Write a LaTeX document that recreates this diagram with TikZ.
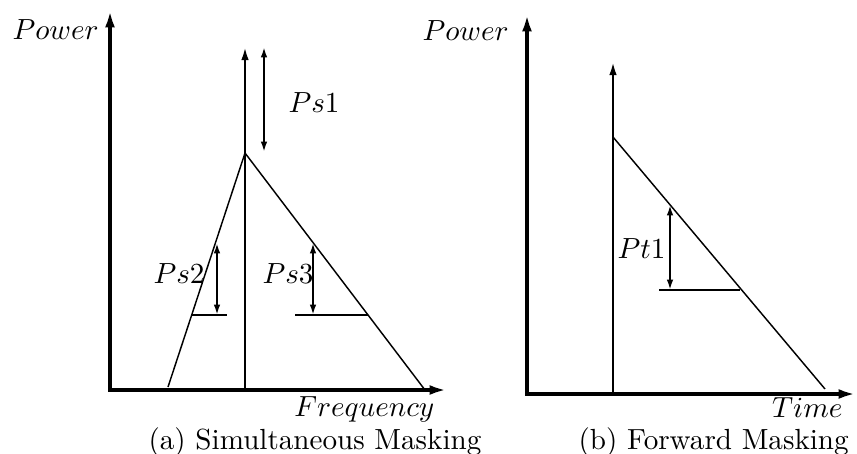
\documentclass[tikz,border=0pt]{standalone}
\usepackage{tikz}
\usetikzlibrary{arrows.meta}

\begin{document}
\begin{tikzpicture}[x=0.3434pt,y=-0.3434pt,
		axis/.style={line width=1.2pt,{Latex[length=6pt,width=3.4pt]}-{Latex[length=6pt,width=3.4pt]}},
		masker/.style={line width=0.8pt,-{Latex[length=4.5pt,width=2.6pt]}},
		slope/.style={line width=0.5pt},
		level/.style={line width=0.7pt,{Latex[length=3.6pt,width=2.3pt]}-{Latex[length=3.6pt,width=2.3pt]}},
		lbl/.style={inner sep=0pt}]
		\useasboundingbox (0,0) rectangle (857,453);
		% (a) simultaneous masking
		\coordinate (oA) at (110,390);
		\coordinate (yA) at (110,10);
		\coordinate (xA) at (447,390);
		\draw[axis] (yA) -- (oA) -- (xA);
		\node[lbl,anchor=base west] (powA) at (12,39) {$Power$};
		\node[lbl,anchor=base east] (freq) at (435,416) {$Frequency$};
		\node[lbl,anchor=base west] (capA) at (148,449) {(a) Simultaneous Masking};
		% masker and spreading
		\coordinate (mA) at (245,390);
		\coordinate (mAtop) at (245,47);
		\coordinate (peak) at (245,153);
		\draw[masker] (mA) -- (mAtop);
		\draw[slope] (168,387) coordinate (lowL) -- (peak) -- (425,390) coordinate (lowR);
		% Ps1
		\coordinate (s1a) at (264,47);
		\coordinate (s1b) at (264,152);
		\draw[level] (s1a) -- (s1b);
		\node[lbl,anchor=base west] (ps1) at (288,112) {$Ps1$};
		% Ps2
		\coordinate (s2a) at (217,243);
		\coordinate (s2b) at (217,315);
		\draw[level] (s2a) -- (s2b);
		\draw[slope] (192,315) coordinate (h2a) -- (227,315) coordinate (h2b);
		\node[lbl,anchor=base west] (ps2) at (153,283) {$Ps2$};
		% Ps3
		\coordinate (s3a) at (313,243);
		\coordinate (s3b) at (313,315);
		\draw[level] (s3a) -- (s3b);
		\draw[slope] (295,315) coordinate (h3a) -- (368,315) coordinate (h3b);
		\node[lbl,anchor=base west] (ps3) at (262,283) {$Ps3$};

		% (b) forward masking
		\coordinate (oB) at (527,394);
		\coordinate (yB) at (527,14);
		\coordinate (xB) at (856,394);
		\draw[axis] (yB) -- (oB) -- (xB);
		\node[lbl,anchor=base west] (powB) at (422,40) {$Power$};
		\node[lbl,anchor=base east] (time) at (843,417) {$Time$};
		\node[lbl,anchor=base west] (capB) at (578,449) {(b) Forward Masking};
		% masker and decay
		\coordinate (mB) at (613,394);
		\coordinate (mBtop) at (613,62);
		\draw[masker] (mB) -- (mBtop);
		\draw[slope] (613,137) coordinate (dec0) -- (825,389) coordinate (dec1);
		% Pt1
		\coordinate (t1a) at (670,205);
		\coordinate (t1b) at (670,290);
		\draw[level] (t1a) -- (t1b);
		\draw[slope] (659,290) coordinate (ht1a) -- (740,290) coordinate (ht1b);
		\node[lbl,anchor=base west] (pt1) at (617,258) {$Pt1$};
	\end{tikzpicture}
\end{document}
